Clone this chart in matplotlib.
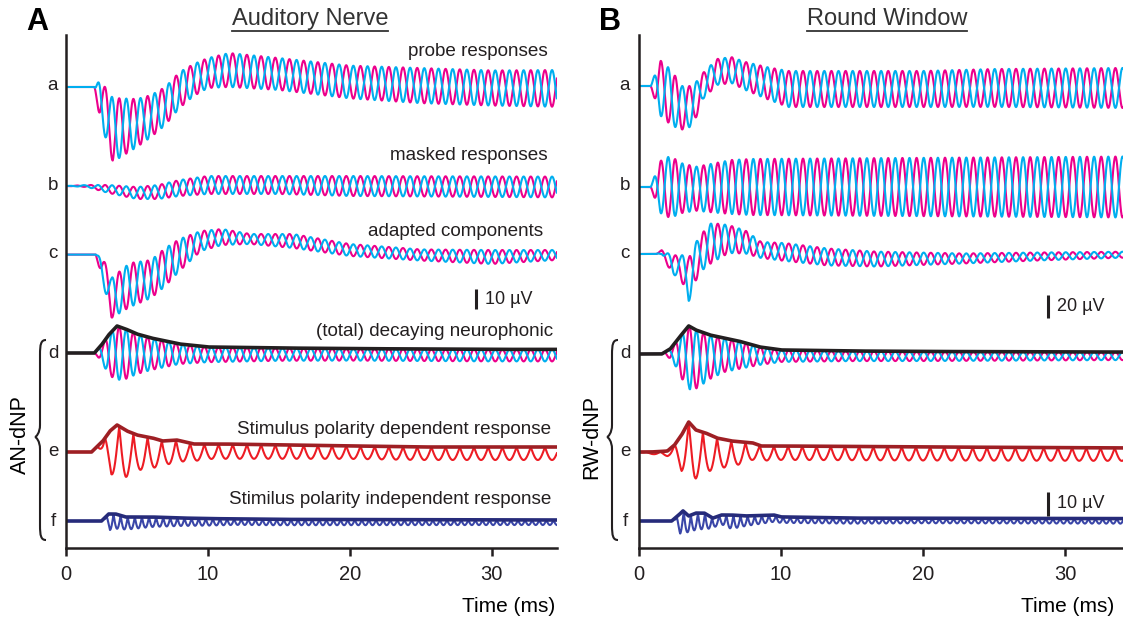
import numpy as np
import matplotlib.pyplot as plt
from matplotlib.path import Path
from matplotlib.patches import PathPatch
from matplotlib.lines import Line2D

plt.rcParams['font.family'] = ['Liberation Sans', 'DejaVu Sans']

W, H = 1123, 619
PINK = '#EC008C'
CYAN = '#00AEEF'
BLACK = '#231F20'
DRED = '#9E1F24'
RED = '#ED1C24'
NAVY = '#262B7A'
NAVY2 = '#3A46A8'

FREQ = 1.0  # kHz tone, period

# ---------------- Auditory nerve (A), values in uV ----------------
an_a_t   = [0, 2.0, 2.4, 3.3, 5, 6, 7, 8, 9, 10, 11.5, 15, 20, 25, 30, 34.6]
an_a_mid = [0.5, 0.5, -6, -21, -17.5, -14, -9, -1, 4, 7.5, 9, 7, 3, 1.2, 0, -0.2]
an_a_amp = [0, 0, 10, 16, 12, 10.5, 9.5, 9, 8, 7.5, 8.5, 8, 8.2, 8.8, 8.8, 9.2]

an_b_t   = [0, 1.5, 3, 5, 6.5, 8, 10, 15, 20, 34.6]
an_b_mid = [0, 0, -1.5, -3.5, -3, -1, 0.5, 0.5, 0, -0.5]
an_b_amp = [0, 0.5, 2, 3, 3.5, 4, 4.5, 4.5, 5, 5.2]

an_c_t   = [0, 2.1, 2.6, 3.2, 4.5, 6, 7, 8, 9.5, 11, 13, 16, 20, 25, 30, 34.6]
an_c_mid = [0.2, 0.2, -7.5, -21.5, -15, -12, -6, 0, 7, 9, 8, 7, 2.5, 0, -1, 0]
an_c_amp = [0, 0, 6, 10, 11, 9.5, 9.5, 8, 5, 4, 2.5, 3.5, 3, 2.8, 3.5, 2.5]

an_d_t   = [0, 2.0, 2.5, 3.0, 3.6, 4.2, 5, 6, 7, 8, 10, 15, 20, 25, 30, 34.6]
an_d_env = [0, 0, 4, 9, 13.5, 12, 9.5, 7.5, 6, 4.5, 3, 2.5, 2.2, 2, 1.8, 1.8]
an_d_amp = [0, 0, 4, 10, 13.5, 12.5, 10, 8, 6.5, 5, 3.8, 3.2, 3, 3, 3, 3]

an_e_t     = [0, 1.8, 2.6, 3.1, 3.6, 4.3, 5.0, 6.1, 6.8, 7.8, 9, 11, 16, 25, 34.6]
an_e_env   = [0, 0, 5.5, 10.5, 13.5, 10.5, 8.5, 7, 5.5, 6, 4, 4, 3.5, 2.5, 2.5]
an_e_dt    = [0, 2.2, 2.7, 3.2, 4.2, 5.0, 5.9, 6.8, 7.7, 8.6, 10, 20, 34.6]
an_e_depth = [0, 0, 7, 22.5, 23.5, 17.5, 16, 12, 11.5, 9, 7.5, 6.5, 6.5]

an_f_t     = [0, 2.5, 3.0, 3.5, 4.2, 6, 8, 10, 15, 34.6]
an_f_env   = [0, 0, 3.5, 3.5, 2, 2, 1.5, 1.2, 0.8, 0.5]
an_f_dt    = [0, 2.7, 3.1, 4, 6, 8, 12, 34.6]
an_f_depth = [0, 0, 8, 6.5, 5, 4, 3, 2.5]

# ---------------- Round window (B), values in uV ----------------
rw_a_t   = [0, 0.8, 1.5, 2.3, 3.0, 3.8, 4.5, 5.5, 6.5, 7.5, 9, 10.5, 15, 20, 25, 34.1]
rw_a_mid = [0, 0, -1.7, -10.4, -19, -17.4, 0, 12.2, 13.9, 8.7, 2.6, -2.6, -2.6, -2.6, -1.7, -1.7]
rw_a_amp = [0, 0, 24, 24, 19, 17.4, 11.3, 11.3, 11.3, 12.2, 13.9, 15.7, 15.7, 15.7, 16.5, 17.4]

rw_b_t   = [0, 0.8, 1.5, 2.2, 3.0, 4.0, 5.0, 6.5, 8, 34.1]
rw_b_mid = [0, 0, 0, 0, -1, -1.5, -1, 0, 0, 0]
rw_b_amp = [0, 0, 22.6, 27, 21.7, 19.1, 20.9, 23.5, 24.4, 26.5]

rw_c_t   = [0, 1.2, 1.6, 2.4, 2.85, 3.5, 4.2, 5.1, 6.3, 7.5, 8.6, 10.3, 13.3, 16.7, 22.8, 28, 34.1]
rw_c_mid = [0, 0, 1.7, -10.4, -8.7, -22.6, -0.9, 9.6, 13, 10.4, 3.5, 1.7, -2.6, -4.4, -3.9, -2.2, -0.6]
rw_c_amp = [0, 0, 1.7, 8.7, 8.7, 19.1, 15.7, 17.4, 12.2, 10, 7, 7.8, 7.4, 6.5, 4.4, 3.5, 2.6]

rw_d_t   = [0, 1.6, 2.2, 2.8, 3.5, 4.0, 5, 6, 7, 8.5, 10, 15, 20, 34.1]
rw_d_env = [0, 0, 4.4, 13.9, 24.4, 20.9, 16.5, 13.9, 11.3, 6.1, 3.5, 2.6, 2.2, 1.7]
rw_d_at  = [0, 1.8, 2.4, 3.0, 3.6, 4.2, 5, 6, 7, 8.5, 10, 15, 34.1]
rw_d_amp = [0, 0, 7, 19.1, 27.8, 24.4, 19.1, 14.8, 12.2, 7.8, 5.2, 4.4, 3.5]

rw_e_t     = [0, 0.8, 1.5, 2.0, 2.5, 3.0, 3.5, 4.0, 4.7, 5.5, 6.5, 8.0, 8.6, 10, 20, 34.1]
rw_e_env   = [0, 0, 0.2, 0.4, 2.9, 7.1, 12.5, 9.2, 7.9, 5.8, 4.6, 3.8, 2.5, 2.5, 2.1, 1.7]
rw_e_dt    = [0, 0.8, 1.3, 2.0, 2.5, 3.0, 3.9, 4.8, 5.6, 6.6, 7.4, 8.3, 10, 34.1]
rw_e_depth = [0, 0.8, 1.2, 2.1, 3.8, 15, 20.8, 15.8, 12.5, 10.4, 8.8, 6.2, 5.8, 5.4]

rw_f_t     = [0, 2.3, 2.8, 3.1, 3.5, 4.0, 4.6, 5.2, 5.8, 6.5, 7.5, 9.5, 10, 15, 34.1]
rw_f_env   = [0, 0, 2.5, 4.2, 2.1, 3.3, 3.3, 1.2, 2.5, 2.5, 2.1, 2.5, 1.7, 1.2, 1]
rw_f_dt    = [0, 2.5, 2.9, 3.5, 4.5, 5.6, 6.5, 7.5, 10, 20, 34.1]
rw_f_depth = [0, 0, 8.3, 7.1, 6.7, 3.3, 5.8, 4.2, 2.5, 2.1, 2.1]

trace_letters = ['a', 'b', 'c', 'd', 'e', 'f']
an_labels = ['probe responses', 'masked responses', 'adapted components',
             '(total) decaying neurophonic', 'Stimulus polarity dependent response',
             'Stimilus polarity independent response']

fig = plt.figure(figsize=(W / 100, H / 100), dpi=100)


def ftext(x, y, s, **kw):
    # place text using pixel coordinates of the reference (y from top)
    return fig.text(x / W, 1 - y / H, s, **kw)


def make_ax(x0, x1, tmax):
    ax = fig.add_axes([x0 / W, (H - 548) / H, (x1 - x0) / W, (548 - 35) / H])
    ax.set_xlim(0, tmax)
    ax.set_ylim(0, 513)
    for s in ['top', 'right']:
        ax.spines[s].set_visible(False)
    ax.spines['left'].set_linewidth(1.8)
    ax.spines['bottom'].set_linewidth(1.8)
    ax.spines['left'].set_color(BLACK)
    ax.spines['bottom'].set_color(BLACK)
    ax.set_yticks([])
    ax.set_xticks([0, 10, 20, 30])
    ax.tick_params(axis='x', direction='out', length=6, width=1.8,
                   labelsize=14.5, pad=6, colors=BLACK)
    return ax


def pair_trace(ax, t, kt, mid, amp, t0, y0, k):
    m = np.interp(t, kt, mid)
    a = np.interp(t, kt, amp)
    s = np.sin(2 * np.pi * FREQ * (t - t0))
    ax.plot(t, y0 + k * (m + a * s), color=PINK, lw=1.5)
    ax.plot(t, y0 + k * (m - a * s), color=CYAN, lw=1.5)


def d_trace(ax, t, kt, env, at, amp, t0, y0, k):
    e = np.interp(t, kt, env)
    a = np.interp(t, at, amp)
    s = np.sin(2 * np.pi * FREQ * (t - t0))
    ax.plot(t, y0 + k * (e - a + a * s), color=PINK, lw=1.5)
    ax.plot(t, y0 + k * (e - a - a * s), color=CYAN, lw=1.5)
    ax.plot(t, y0 + k * e, color=BLACK, lw=2.6)


def dip_trace(ax, t, kt, env, dt, depth, tz, harm, y0, k, c_thick, c_thin):
    e = np.interp(t, kt, env)
    d = np.interp(t, dt, depth)
    r = np.abs(np.sin(np.pi * harm * FREQ * (t - tz)))
    ax.plot(t, y0 + k * (e - d * r), color=c_thin, lw=1.5)
    ax.plot(t, y0 + k * e, color=c_thick, lw=2.6)


def brace(x_r, x_m, x_l, y_t, y_m, y_b):
    pts = [(x_r, y_t), (x_m + 1, y_t), (x_m, y_t + 4), (x_m, y_t + 15),
           (x_m, y_m - 12),
           (x_m, y_m - 4), (x_l + 1, y_m), (x_l, y_m),
           (x_l + 1, y_m), (x_m, y_m + 4), (x_m, y_m + 12),
           (x_m, y_b - 15),
           (x_m, y_b - 4), (x_m + 1, y_b), (x_r, y_b)]
    codes = [Path.MOVETO, Path.CURVE4, Path.CURVE4, Path.CURVE4, Path.LINETO,
             Path.CURVE4, Path.CURVE4, Path.CURVE4,
             Path.CURVE4, Path.CURVE4, Path.CURVE4, Path.LINETO,
             Path.CURVE4, Path.CURVE4, Path.CURVE4]
    verts = [(x / W, 1 - y / H) for x, y in pts]
    fig.add_artist(PathPatch(Path(verts, codes), fill=False, lw=1.5,
                             edgecolor=BLACK, transform=fig.transFigure))


def scalebar(ax, t, y_bottom, length, label):
    ax.plot([t, t], [y_bottom, y_bottom + length], color=BLACK, lw=2.2,
            solid_capstyle='butt')
    ax.text(t + 0.65, y_bottom + length / 2, label, fontsize=13,
            va='center', ha='left', color=BLACK)


# baselines in axis units (pixels above the bottom spine)
base = {'a': 460, 'b': 362, 'c': 293, 'd': 195, 'e': 96, 'f': 27}
base_rw = {'a': 462, 'b': 361, 'c': 294, 'd': 194, 'e': 96, 'f': 27}

# ---------- panel A ----------
tA = np.arange(0, 34.6, 0.01)
axA = make_ax(66, 557, 34.6)
kA = 2.0   # px per uV (10 uV bar = 20 px)
t0A = 3.5
pair_trace(axA, tA, an_a_t, an_a_mid, an_a_amp, t0A, base['a'], kA)
pair_trace(axA, tA, an_b_t, an_b_mid, an_b_amp, t0A, base['b'], kA)
pair_trace(axA, tA, an_c_t, an_c_mid, an_c_amp, t0A, base['c'], kA)
d_trace(axA, tA, an_d_t, an_d_env, an_d_t, an_d_amp, t0A, base['d'], kA)
dip_trace(axA, tA, an_e_t, an_e_env, an_e_dt, an_e_depth, 2.75, 1, base['e'], kA, DRED, RED)
dip_trace(axA, tA, an_f_t, an_f_env, an_f_dt, an_f_depth, 2.85, 2, base['f'], kA, NAVY, NAVY2)
scalebar(axA, 28.9, 239, 10 * kA, '10 µV')

# ---------- panel B ----------
tB = np.arange(0, 34.1, 0.01)
axB = make_ax(639, W, (W - 639) / 14.2)
kB = 1.15  # px per uV (20 uV bar = 23 px)
kB2 = 2.4  # px per uV for e, f (10 uV bar = 24 px)
t0B = 3.3
pair_trace(axB, tB, rw_a_t, rw_a_mid, rw_a_amp, t0B, base_rw['a'], kB)
pair_trace(axB, tB, rw_b_t, rw_b_mid, rw_b_amp, t0B, base_rw['b'], kB)
pair_trace(axB, tB, rw_c_t, rw_c_mid, rw_c_amp, t0B, base_rw['c'], kB)
d_trace(axB, tB, rw_d_t, rw_d_env, rw_d_at, rw_d_amp, t0B, base_rw['d'], kB)
dip_trace(axB, tB, rw_e_t, rw_e_env, rw_e_dt, rw_e_depth, 2.5, 1, base_rw['e'], kB2, DRED, RED)
dip_trace(axB, tB, rw_f_t, rw_f_env, rw_f_dt, rw_f_depth, 2.65, 2, base_rw['f'], kB2, NAVY, NAVY2)
scalebar(axB, 28.8, 230, 20 * kB, '20 µV')
scalebar(axB, 28.8, 32, 10 * kB2, '10 µV')

# ---------- text ----------
ys = [85, 186, 254, 353, 452, 521]
for L, y in zip(trace_letters, ys):
    ftext(53, y, L, fontsize=13.5, ha='center', va='center', color=BLACK)
    ftext(625, y, L, fontsize=13.5, ha='center', va='center', color=BLACK)

lab_pos = [(548, 52), (548, 155), (543, 232), (553, 331), (551, 429), (551, 500)]
for s, (x, y) in zip(an_labels, lab_pos):
    ftext(x, y, s, fontsize=13.6, ha='right', va='center', color=BLACK)

ftext(37, 22, 'A', fontsize=22, fontweight='bold', ha='center', va='center')
ftext(610, 22, 'B', fontsize=22, fontweight='bold', ha='center', va='center')
titles = [ftext(310, 19, 'Auditory Nerve', fontsize=17, ha='center', va='center', color='#333333'),
          ftext(887, 19, 'Round Window', fontsize=17, ha='center', va='center', color='#333333')]

ftext(555, 606, 'Time (ms)', fontsize=15, ha='right', va='center')
ftext(1114, 606, 'Time (ms)', fontsize=15, ha='right', va='center')

ftext(20, 435, 'AN-dNP', fontsize=15.5, rotation=90, ha='center', va='center')
ftext(592, 437, 'RW-dNP', fontsize=15.5, rotation=90, ha='center', va='center')
brace(46, 40, 35, 340, 437, 540)
brace(618, 612, 607, 340, 437, 540)

# underline the two panel titles
fig.canvas.draw()
for tx in titles:
    bb = tx.get_window_extent()
    yline = (bb.y0 - 1) / H
    fig.add_artist(Line2D([bb.x0 / W, bb.x1 / W], [yline, yline],
                          color='#333333', lw=1.3, transform=fig.transFigure))

fig.savefig('out.png', dpi=100, facecolor='white')
